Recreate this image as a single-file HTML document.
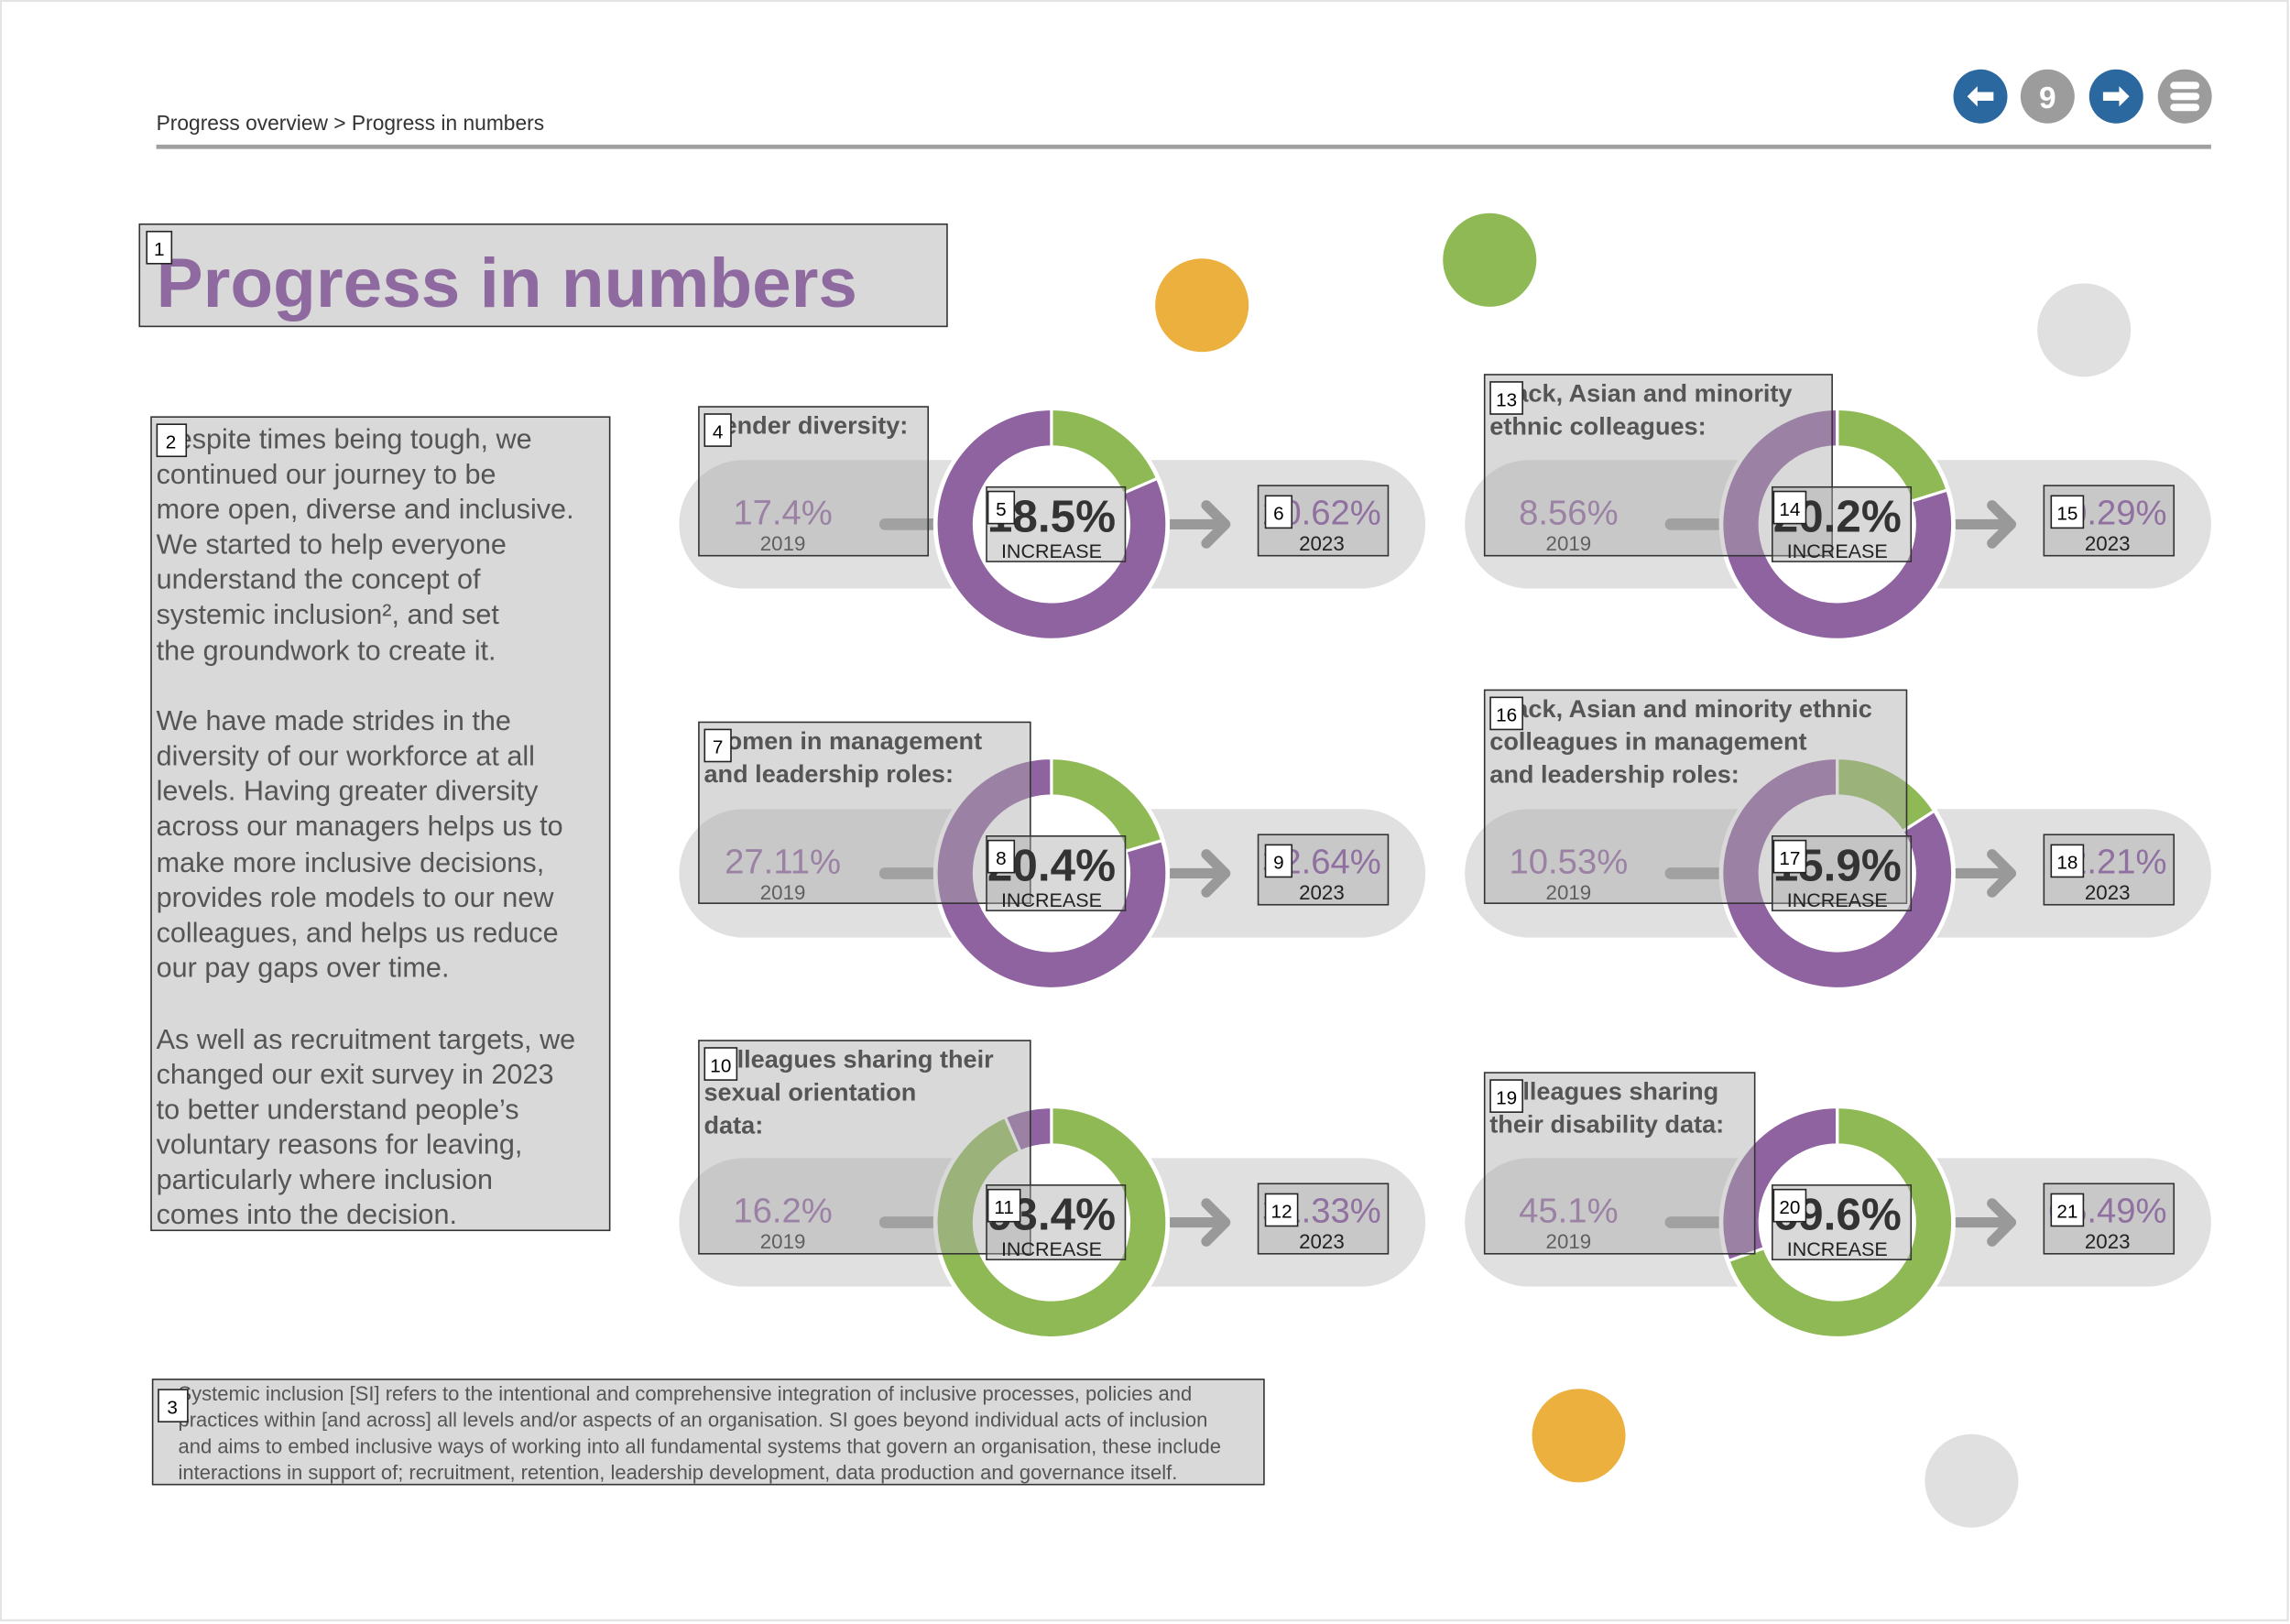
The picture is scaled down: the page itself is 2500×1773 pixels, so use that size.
<!DOCTYPE html>
<html><head><meta charset="utf-8">
<style>
html,body{margin:0;padding:0;background:#fff;}
svg{display:block;font-family:"Liberation Sans",sans-serif;}
</style></head>
<body>
<svg id="page" width="2500" height="1773" viewBox="0 0 1568 1112" xmlns="http://www.w3.org/2000/svg">
<rect x="0.5" y="0.5" width="1566" height="1109" fill="#fff" stroke="#e4e4e4" stroke-width="1.5"/>
<text x="107" y="89" font-size="14.3" fill="#333">Progress overview &gt; Progress in numbers</text>
<rect x="107" y="99" width="1407" height="3" fill="#a0a0a0"/>
<g>
<circle cx="1356" cy="66" r="18.5" fill="#2b68a0"/>
<path d="M1347 66 L1354 59 L1354 63 L1365 63 L1365 69 L1354 69 L1354 73 Z" fill="#fff"/></g>
<g>
<circle cx="1402" cy="66" r="18.5" fill="#9c9c9c"/>
<text x="1402" y="74" font-size="21" font-weight="bold" fill="#fff" text-anchor="middle">9</text></g>
<g>
<circle cx="1449" cy="66" r="18.5" fill="#2b68a0"/>
<path d="M1458 66 L1451 59 L1451 63 L1440 63 L1440 69 L1451 69 L1451 73 Z" fill="#fff"/></g>
<g>
<circle cx="1496" cy="66" r="18.5" fill="#9c9c9c"/>
<rect x="1486" y="56" width="20" height="5" rx="2.5" fill="#fff"/><rect x="1486" y="63.5" width="20" height="5" rx="2.5" fill="#fff"/><rect x="1486" y="71" width="20" height="5" rx="2.5" fill="#fff"/></g>

<circle cx="823" cy="209" r="32" fill="#ecb03e"/>
<circle cx="1020" cy="178" r="32" fill="#8fb955"/>
<circle cx="1427" cy="226" r="32" fill="#e0e0e0"/>
<circle cx="1081" cy="983" r="32" fill="#ecb03e"/>
<circle cx="1350" cy="1014" r="32" fill="#e0e0e0"/>

<g>
<rect x="95.5" y="153.5" width="553" height="70" fill="#d9d9d9" stroke="#333" stroke-width="1"/>
<text x="107" y="210" font-size="48" font-weight="bold" fill="#8f6aa0">Progress in numbers</text>
<rect x="100.5" y="158.5" width="17" height="22" fill="#fff" stroke="#222"/><text x="109" y="175" font-size="13" text-anchor="middle" fill="#000">1</text></g>

<g font-size="19.2" fill="#555">
<rect x="103.5" y="285.5" width="314" height="557" fill="#d9d9d9" stroke="#333"/>
<text x="107" y="307">Despite times being tough, we</text>
<text x="107" y="331">continued our journey to be</text>
<text x="107" y="355">more open, diverse and inclusive.</text>
<text x="107" y="379">We started to help everyone</text>
<text x="107" y="403">understand the concept of</text>
<text x="107" y="427">systemic inclusion², and set</text>
<text x="107" y="452">the groundwork to create it.</text>
<text x="107" y="500">We have made strides in the</text>
<text x="107" y="524">diversity of our workforce at all</text>
<text x="107" y="548">levels. Having greater diversity</text>
<text x="107" y="572">across our managers helps us to</text>
<text x="107" y="597">make more inclusive decisions,</text>
<text x="107" y="621">provides role models to our new</text>
<text x="107" y="645">colleagues, and helps us reduce</text>
<text x="107" y="669">our pay gaps over time.</text>
<text x="107" y="718">As well as recruitment targets, we</text>
<text x="107" y="742">changed our exit survey in 2023</text>
<text x="107" y="766">to better understand people’s</text>
<text x="107" y="790">voluntary reasons for leaving,</text>
<text x="107" y="814">particularly where inclusion</text>
<text x="107" y="838">comes into the decision.</text>
<rect x="107.5" y="290.5" width="20" height="22" fill="#fff" stroke="#222"/><text x="117" y="307" font-size="13" text-anchor="middle" fill="#000">2</text></g>

<g font-size="13.8" fill="#555">
<rect x="104.5" y="944.5" width="761" height="72" fill="#d9d9d9" stroke="#333"/>
<text x="122" y="959">Systemic inclusion [SI] refers to the intentional and comprehensive integration of inclusive processes, policies and</text>
<text x="122" y="977">practices within [and across] all levels and/or aspects of an organisation. SI goes beyond individual acts of inclusion</text>
<text x="122" y="995">and aims to embed inclusive ways of working into all fundamental systems that govern an organisation, these include</text>
<text x="122" y="1013">interactions in support of; recruitment, retention, leadership development, data production and governance itself.</text>
<rect x="108.5" y="951.5" width="20" height="22" fill="#fff" stroke="#222"/><text x="118" y="968" font-size="13" text-anchor="middle" fill="#000">3</text></g>

<g id="panels"></g>
</svg>
<script>
// data
const categories = ["Gender diversity:", "Women in management|and leadership roles:", "Colleagues sharing their|sexual orientation|data:", "Black, Asian and minority|ethnic colleagues:", "Black, Asian and minority ethnic|colleagues in management|and leadership roles:", "Colleagues sharing|their disability data:"];
const values2019 = [17.4, 27.11, 16.2, 8.56, 10.53, 45.1];
const values2023 = [20.62, 32.64, 31.33, 10.29, 12.21, 65.49];
const increases = [18.5, 20.4, 93.4, 20.2, 15.9, 69.6];
const labels2019 = ["17.4%", "27.11%", "16.2%", "8.56%", "10.53%", "45.1%"];
const labels2023 = ["20.62%", "32.64%", "31.33%", "10.29%", "12.21%", "65.49%"];
const labelsIncrease = ["18.5%", "20.4%", "93.4%", "20.2%", "15.9%", "69.6%"];

const NS = "http://www.w3.org/2000/svg";
const root = document.getElementById('panels');
// layout (not data)
const rowY = [359, 598, 837];
const colX = [720, 1258];
const titleBoxes = [[478,278,157,102],[478,494,227,124],[478,712,227,146],[1016,256,238,124],[1016,472,289,146],[1016,734,185,124]];
const boxNums = [[4,5,6],[7,8,9],[10,11,12],[13,14,15],[16,17,18],[19,20,21]];
const R0 = 79, R1 = 53;

function el(tag, attrs, parent){const e=document.createElementNS(NS,tag);for(const k in attrs)e.setAttribute(k,attrs[k]);(parent||root).appendChild(e);return e;}
function txt(x,y,s,size,fill,extra,parent){const t=el('text',Object.assign({x:x,y:y,'font-size':size,fill:fill},extra||{}),parent);t.textContent=s;return t;}
function angleToXY(cx,cy,r,frac){const a=frac*2*Math.PI-Math.PI/2;return [cx+r*Math.cos(a),cy+r*Math.sin(a)];}
function arcPath(cx,cy,f0,f1){
  const large=(f1-f0)>0.5?1:0;
  const [x0,y0]=angleToXY(cx,cy,R0,f0),[x1,y1]=angleToXY(cx,cy,R0,f1);
  const [x2,y2]=angleToXY(cx,cy,R1,f1),[x3,y3]=angleToXY(cx,cy,R1,f0);
  return `M${x0} ${y0}A${R0} ${R0} 0 ${large} 1 ${x1} ${y1}L${x2} ${y2}A${R1} ${R1} 0 ${large} 0 ${x3} ${y3}Z`;
}
function numBox(x,y,n,g){el('rect',{x:x+0.5,y:y+0.5,width:n>9?22:18,height:22,fill:'#fff',stroke:'#222'},g);txt(x+(n>9?11.5:9.5),y+17,String(n),13,'#000',{'text-anchor':'middle'},g);}

for(let i=0;i<categories.length;i++){
  const col=Math.floor(i/3), row=i%3;
  const cx=colX[col], cy=rowY[row];
  const g=el('g',{});
  
  
  const pill=el('rect',{x:cx-255,y:cy-44,width:511,height:88,rx:44,fill:'#e0e0e0'},g);
  
  
  const bar=el('line',{x1:cx-114,y1:cy,x2:cx-80,y2:cy,stroke:'#999',"stroke-width":8,"stroke-linecap":"round"},g);
  
  
  const arr=el('path',{d:`M${cx+82} ${cy}H${cx+118}M${cx+106} ${cy-13}L${cx+119} ${cy}L${cx+106} ${cy+13}`,stroke:'#999','stroke-width':7,fill:'none','stroke-linecap':'round','stroke-linejoin':'round'},g);
  
  
  el('circle',{cx:cx,cy:cy,r:R0+2,fill:'#fff'},g);
  const frac=Math.min(increases[i]/100,0.999);
  const gs=el('path',{d:arcPath(cx,cy,0,frac),fill:'#8fb955',stroke:'#fff','stroke-width':2},g);
  
  
  const ps=el('path',{d:arcPath(cx,cy,frac,0.9999),fill:'#8f62a0',stroke:'#fff','stroke-width':2},g);
  
  
  const v19=txt(cx-184,cy+0,labels2019[i],24,'#8f62a0',{'text-anchor':'middle','data-v':values2019[i]},g);
  
  
  txt(cx-184,cy+18,'2019',14,'#222',{'text-anchor':'middle'},g);
  const tb=titleBoxes[i];
  const lines=categories[i].split('|');
  const ov=el('rect',{x:tb[0]+0.5,y:tb[1]+0.5,width:tb[2],height:tb[3],fill:'rgba(171,171,171,0.45)',stroke:'#333'},g);
  
  
  lines.forEach((s,k)=>{const t=txt(tb[0]+4,tb[1]+19+k*22.5,s,17,'#555',{'font-weight':'bold'},g);});
  numBox(tb[0]+4,tb[1]+5,boxNums[i][0],g);
  el('rect',{x:cx-44.5,y:cy-25.5,width:95,height:51,fill:'rgba(171,171,171,0.45)',stroke:'#333'},g);
  const inc=txt(cx,cy+5,labelsIncrease[i],31,'#333',{'text-anchor':'middle','font-weight':'bold'},g);
  
  
  txt(cx,cy+23,'INCREASE',13.5,'#222',{'text-anchor':'middle'},g);
  numBox(cx-44,cy-23,boxNums[i][1],g);
  el('rect',{x:cx+141.5,y:cy-26.5,width:89,height:48,fill:'rgba(171,171,171,0.45)',stroke:'#333'},g);
  const v23=txt(cx+185,cy+0,labels2023[i],24,'#9070a0',{'text-anchor':'middle','data-v':values2023[i]},g);
  
  
  txt(cx+185,cy+18,'2023',14,'#222',{'text-anchor':'middle'},g);
  numBox(cx+146,cy-20,boxNums[i][2],g);
}
</script>
</body></html>
